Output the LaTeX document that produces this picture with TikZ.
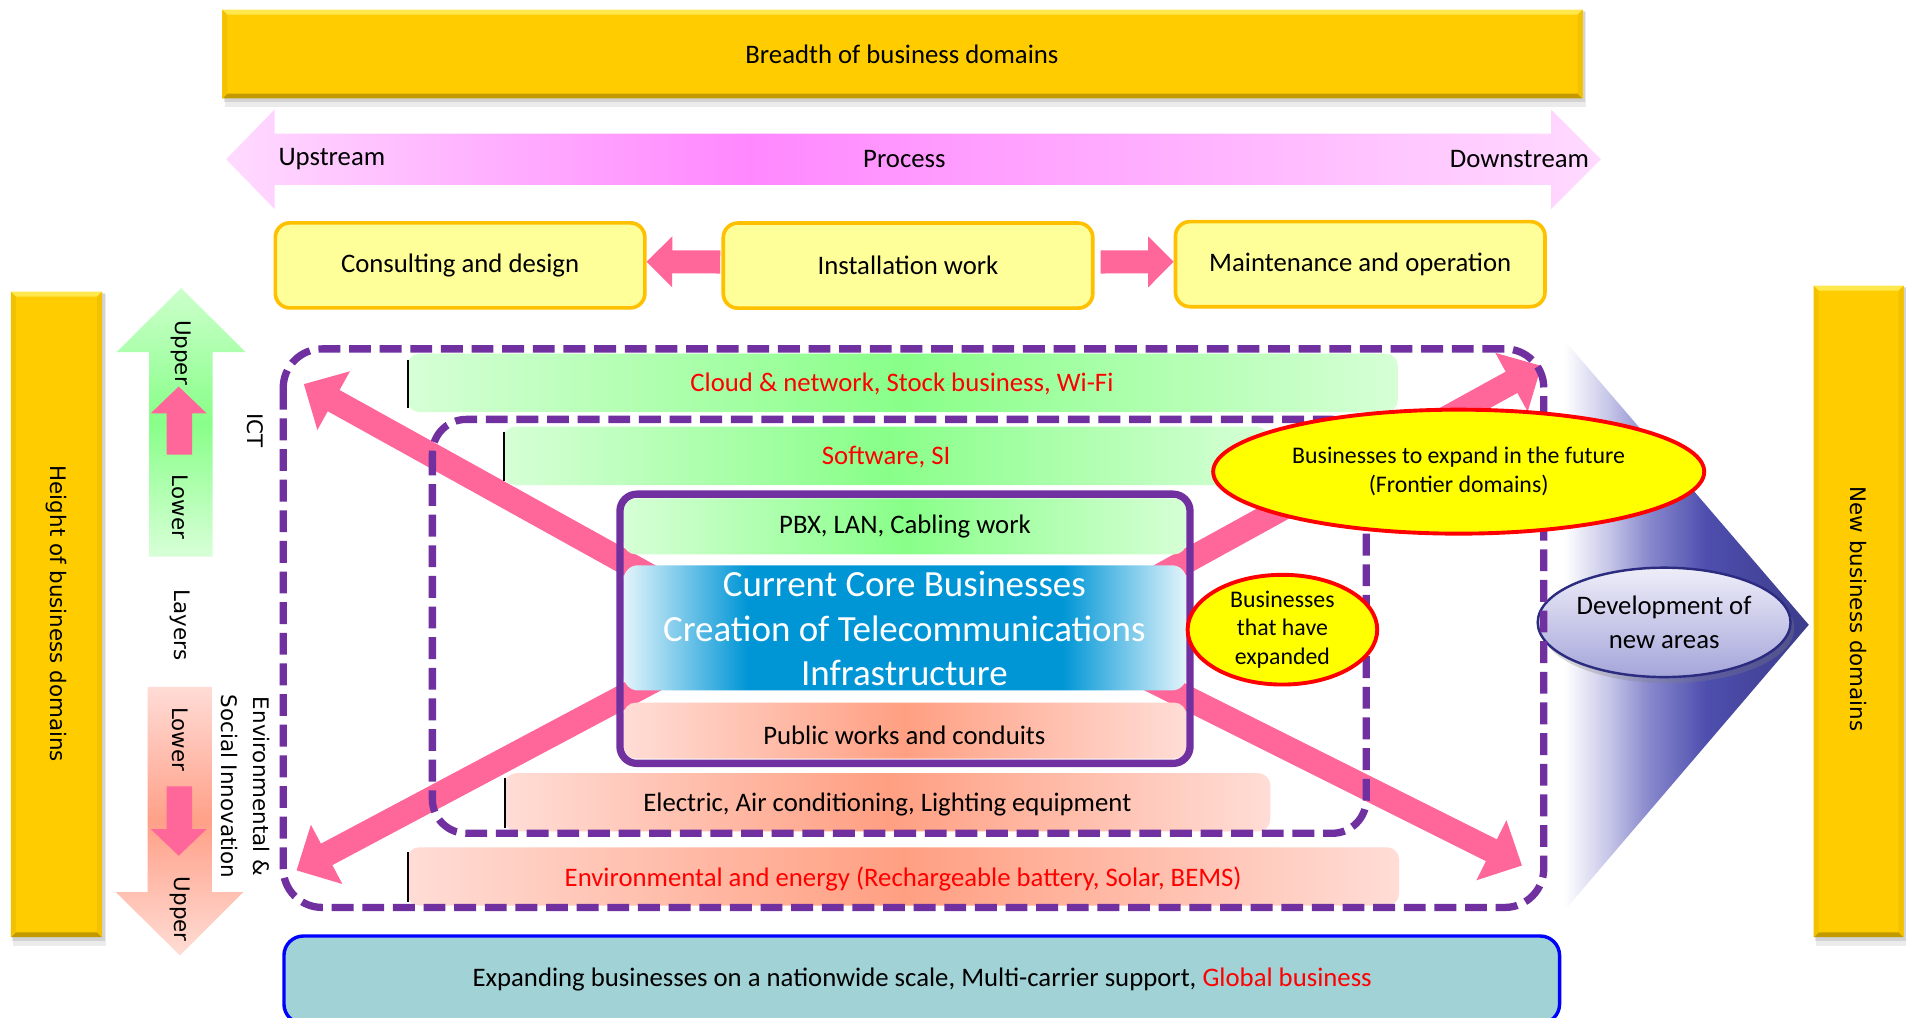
\documentclass[tikz,border=0pt]{standalone}
\usepackage{fontspec}
\setmainfont{Carlito}
\newfontfamily\dvs{DejaVu Sans}
\usetikzlibrary{calc,shapes.geometric,shadows}
\definecolor{gold}{HTML}{FFCC00}
\definecolor{goldtop}{HTML}{FFE84D}
\definecolor{goldbot}{HTML}{C29A00}
\definecolor{goldside}{HTML}{F2C200}
\definecolor{boxfill}{HTML}{FFFF99}
\definecolor{boxline}{HTML}{FFC000}
\definecolor{pinkarrow}{HTML}{FF6699}
\definecolor{purp}{HTML}{7030A0}
\definecolor{glight}{HTML}{D6FFD6}
\definecolor{gbright}{HTML}{88FF88}
\definecolor{slight}{HTML}{FFDDD6}
\definecolor{sbright}{HTML}{FF9F82}
\definecolor{cblue}{HTML}{0096D6}
\definecolor{cbluelight}{HTML}{E3F4FB}
\definecolor{plight}{HTML}{FFDAFF}
\definecolor{pmag}{HTML}{FF88FF}
\definecolor{bottomfill}{HTML}{A0D2D6}
\definecolor{bottomline}{HTML}{0000FF}
\definecolor{coneA}{HTML}{C6C6E8}
\definecolor{coneB}{HTML}{8A8ACE}
\definecolor{coneC}{HTML}{4E4EAE}
\definecolor{coneD}{HTML}{3C3C8C}
\definecolor{devtop}{HTML}{EEEEF9}
\definecolor{devbot}{HTML}{A5A5DA}
\definecolor{devline}{HTML}{2B2B80}
\definecolor{redtxt}{HTML}{FF0000}
\definecolor{ellyellow}{HTML}{FFFF00}
\definecolor{garrowtop}{HTML}{CCFFCC}
\definecolor{garrowmid}{HTML}{88FF88}
\definecolor{garrowbot}{HTML}{D8FFD8}
\definecolor{sarrowtop}{HTML}{FFDCD6}
\definecolor{sarrowmid}{HTML}{FFA088}
\definecolor{sarrowbot}{HTML}{FFDDD5}
\pgfdeclarehorizontalshading{processsh}{100bp}{color(0bp)=(plight); color(25bp)=(plight); color(44bp)=(pmag); color(75bp)=(plight); color(100bp)=(plight)}
\pgfdeclarehorizontalshading{coresh}{100bp}{color(0bp)=(cbluelight); color(25bp)=(cbluelight); color(36bp)=(cblue); color(64bp)=(cblue); color(75bp)=(cbluelight); color(100bp)=(cbluelight)}
\pgfdeclarehorizontalshading{conesh}{100bp}{color(0bp)=(white); color(25bp)=(white); color(34bp)=(coneA); color(42bp)=(coneB); color(54bp)=(coneC); color(75bp)=(coneD); color(100bp)=(coneD)}
% gold bevelled bar: x0 y0 x1 y1
\newcommand{\goldbar}[4]{%
  \fill[black,opacity=0.08] (#1+2,#2+2) rectangle (#3+3,#4+7);
  \fill[black,opacity=0.10] (#1+1,#2+1) rectangle (#3+2,#4+3);
  \fill[gold] (#1,#2) rectangle (#3,#4);
  \fill[goldtop] (#1,#2) -- (#3,#2) -- (#3-4,#2+4) -- (#1+4,#2+4) -- cycle;
  \fill[goldbot] (#1,#4) -- (#3,#4) -- (#3-4,#4-4) -- (#1+4,#4-4) -- cycle;
  \fill[goldside] (#1,#2) -- (#1+4,#2+4) -- (#1+4,#4-4) -- (#1,#4) -- cycle;
  \fill[goldside] (#3,#2) -- (#3-4,#2+4) -- (#3-4,#4-4) -- (#3,#4) -- cycle;
}
% fat arrow: style, start, tip, shaft half width, head half width, head length
\newcommand{\fatarrow}[6]{%
  \path (#2) coordinate (fa-s) (#3) coordinate (fa-t);
  \coordinate (fa-b) at ($(fa-t)!#6!(fa-s)$);
  \fill[#1] ($(fa-s)!#4!90:(fa-t)$) -- ($(fa-b)!#4!-90:(fa-s)$) -- ($(fa-b)!#5!-90:(fa-s)$) -- (fa-t)
     -- ($(fa-b)!#5!90:(fa-s)$) -- ($(fa-b)!#4!90:(fa-s)$) -- ($(fa-s)!#4!-90:(fa-t)$) -- cycle;
}
\begin{document}
\begin{tikzpicture}[x=0.5pt,y=-0.5pt,
  txt/.style={font=\fontsize{11}{13.5}\selectfont, inner sep=0pt, text=black},
  redt/.style={txt, text=redtxt},
  vtxt/.style={font=\dvs\fontsize{8.8}{13}\selectfont, rotate=-90, inner sep=0pt, text=black},
  procbox/.style={draw=boxline, line width=1.5pt, fill=boxfill, rounded corners=6pt,
     minimum width=152pt, minimum height=35pt, inner sep=0pt, font=\fontsize{11}{13.5}\selectfont},
  dashbox/.style={draw=purp, line width=3pt, dash pattern=on 9pt off 3.6pt},
  greenbar/.style={left color=glight, right color=glight, middle color=gbright, rounded corners=5pt},
  salmonbar/.style={left color=slight, right color=slight, middle color=sbright, rounded corners=5pt},
  edgeline/.style={draw=black, line width=0.7pt},
  yellipse/.style={ellipse, draw=redtxt, line width=1.6pt, fill=ellyellow, inner sep=0pt, align=center,
     font=\fontsize{9.8}{11.8}\selectfont},
]
\useasboundingbox (0,0) rectangle (1568,837);
\fill[white] (0,0) rectangle (1568,837);

% ---- gold bars
\goldbar{183}{8}{1302}{81}
\node[txt] (breadth) at (742,45) {Breadth of business domains};
\goldbar{9}{240}{84}{771}
\node[vtxt] (height) at (46,505) {Height of business domains};
\goldbar{1492}{235}{1566}{771}
\node[vtxt] (newdom) at (1529,501) {New business domains};

% ---- process arrow
\shade[shading=processsh] (186,131) -- (226,90) -- (226,110) -- (1276,110) -- (1276,90) -- (1317,131)
   -- (1276,172) -- (1276,152) -- (226,152) -- (226,172) -- cycle;
\node[txt] (upstream) at (273,131) {Upstream};
\node[txt] (process) at (744,131) {Process};
\node[txt] (downstream) at (1250,131) {Downstream};

% ---- process boxes
\node[procbox] (consult) at (378.5,218.3) {Consulting and design};
\node[procbox] (install) at (747,218.5) {Installation work};
\node[procbox] (maint) at (1119,217.3) {Maintenance and operation};
\fatarrow{pinkarrow}{$(install.west)+(-1,-3)$}{$(consult.east)+(0,-3)$}{4.75pt}{10.5pt}{10.5pt}
\fatarrow{pinkarrow}{$(install.east)+(5,-3)$}{$(maint.west)+(0,-2)$}{4.75pt}{10.5pt}{10.5pt}

% ---- layer arrows on the left
\shade[top color=garrowtop, bottom color=garrowbot, middle color=garrowmid]
  (149,237) -- (202,289.6) -- (175,289.6) -- (175,458) -- (122.6,458) -- (122.6,289.6) -- (96,289.6) -- cycle;
\fill[pinkarrow] (147,318) -- (170,340) -- (158,340) -- (158,374) -- (137,374) -- (137,340) -- (124,340) -- cycle;
\shade[top color=sarrowtop, bottom color=sarrowbot, middle color=sarrowmid]
  (121.5,565) -- (174.4,565) -- (174.4,734) -- (200,734) -- (148,786) -- (95.4,734) -- (121.5,734) -- cycle;
\fill[pinkarrow] (137,647) -- (158,647) -- (158,682) -- (170,682) -- (147,704) -- (124,682) -- (137,682) -- cycle;
\node[vtxt] (upA) at (149,290) {Upper};
\node[vtxt] (lowA) at (148,417) {Lower};
\node[vtxt] (layers) at (148,514) {Layers};
\node[vtxt] (lowB) at (148,608) {Lower};
\node[vtxt] (upB) at (148,748) {Upper};
\node[vtxt] (ict) at (210,354) {ICT};
\node[vtxt, align=center] (envsoc) at (202,647) {Environmental \&\\Social Innovation};

% ---- cone on the right
\shade[shading=conesh] (1287,280) -- (1488,514) -- (1287,749) -- cycle;
\node[ellipse, minimum width=104pt, minimum height=45pt, top color=devtop, bottom color=devbot,
  draw=devline, line width=1pt, inner sep=0pt, align=center, font=\fontsize{11}{14}\selectfont,
  drop shadow={opacity=0.3, shadow xshift=1.5pt, shadow yshift=-2.5pt}] (dev) at (1369,512) {Development of\\new areas};

% ---- expansion arrows (X)
\coordinate (ulS) at (560,488); \coordinate (ulT) at (250,316);
\coordinate (llS) at (560,548); \coordinate (llT) at (244,716);
\coordinate (urS) at (930,487); \coordinate (urT) at (1268,301);
\coordinate (lrS) at (930,551); \coordinate (lrT) at (1252,712);
\fatarrow{pinkarrow}{ulS}{ulT}{5pt}{13.8pt}{14pt}
\fatarrow{pinkarrow}{llS}{llT}{5pt}{13.8pt}{14pt}
\fatarrow{pinkarrow}{urS}{urT}{5pt}{13.8pt}{14pt}
\fatarrow{pinkarrow}{lrS}{lrT}{5pt}{13.8pt}{14pt}

% ---- layer bars
\shade[greenbar] (335,291) rectangle (1150,339);
\draw[edgeline] (335.5,296) -- (335.5,336);
\node[redt] (cloud) at (742,316) {Cloud \& network, Stock business, Wi-Fi};
\shade[greenbar] (414,351) rectangle (1044,399);
\draw[edgeline] (414.5,355) -- (414.5,396);
\node[redt] (soft) at (729,376) {Software, SI};
\shade[salmonbar] (415,636) rectangle (1045,684);
\draw[edgeline] (415.5,640) -- (415.5,681);
\node[txt] (elec) at (730,662) {Electric, Air conditioning, Lighting equipment};
\shade[salmonbar] (335,697) rectangle (1151,745);
\draw[edgeline] (335.5,701) -- (335.5,742);
\node[redt] (envbar) at (743,723) {Environmental and energy (Rechargeable battery, Solar, BEMS)};

% ---- dashed domains
\draw[dashbox, rounded corners=16pt] (233,287) rectangle (1270,746.5);
\draw[dashbox, rounded corners=14pt] (355.7,345) rectangle (1124,685.5);

% ---- core box
\shade[greenbar] (513,410) rectangle (976,456);
\shade[shading=coresh, rounded corners=6pt] (513,465) rectangle (976,568);
\shade[salmonbar] (513,578) rectangle (976,624);
\draw[purp, line width=3pt, rounded corners=7pt] (510,406.5) rectangle (979,628);
\node[txt] (pbx) at (744.5,433.5) {PBX, LAN, Cabling work};
\node[txt, text=white, align=center, font=\fontsize{15.2}{18.3}\selectfont] (core) at (744,517)
  {Current Core Businesses\\Creation of Telecommunications\\Infrastructure};
\node[txt] (public) at (744,604.5) {Public works and conduits};

% ---- ellipses
\node[yellipse, minimum width=202pt, minimum height=51pt] (future) at (1200,388)
  {Businesses to expand in the future\\(Frontier domains)};
\node[yellipse, minimum width=78pt, minimum height=44pt] (expanded) at (1055,518)
  {Businesses\\that have\\expanded};

% ---- bottom box
\draw[draw=bottomline, fill=bottomfill, line width=1.4pt, rounded corners=8pt] (233.6,770) rectangle (1283,842);
\node[txt] (nation) at (758.6,806) {Expanding businesses on a nationwide scale, Multi-carrier support, \textcolor{redtxt}{Global business}};
\end{tikzpicture}
\end{document}
